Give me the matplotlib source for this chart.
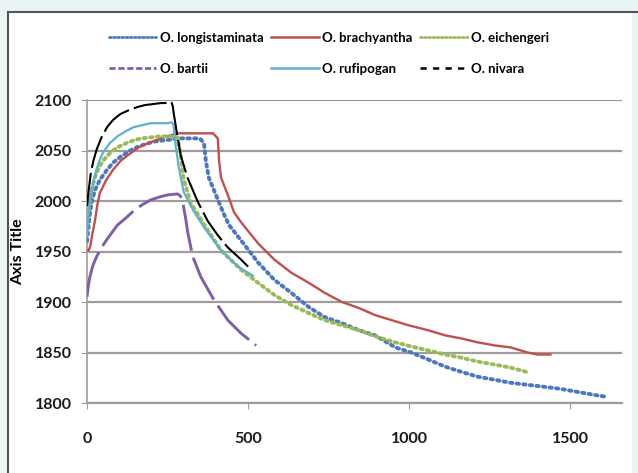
import matplotlib
matplotlib.use('Agg')
import matplotlib.pyplot as plt
from matplotlib.lines import Line2D
from matplotlib.patches import Rectangle

# ---- data ----
nivara_x = [0, 5, 12, 20, 30, 45, 62, 80, 103, 130, 156, 180, 206, 230, 253, 262, 266, 270, 280, 291, 312,
            344, 375, 406, 437, 478, 500]
nivara_y = [1995, 2010, 2028, 2040, 2051, 2063, 2073, 2080, 2086, 2090, 2093, 2095, 2096, 2097, 2097, 2098, 2094, 2085, 2065, 2045, 2023,
            1999, 1980, 1966, 1954, 1942, 1935]

rufi_x = [0, 4, 10, 19, 30, 40, 50, 70, 94, 120, 144, 170, 197, 225, 250, 262, 268, 275, 285, 300, 316, 331,
          363, 416, 469, 515]
rufi_y = [1965, 1985, 2003, 2018, 2032, 2041, 2048, 2057, 2064, 2069, 2073, 2075, 2077, 2077, 2077, 2078, 2076, 2055, 2033, 2009, 1999, 1990,
          1974, 1951, 1935, 1926]

eich_x = [0, 9, 17, 25, 37, 50, 70, 94, 120, 144, 170, 197, 225, 250, 281, 291, 300, 322, 363, 416, 478, 531,
          581, 634, 688, 738, 791, 844, 904, 957, 1006, 1059, 1111, 1160, 1213, 1265, 1315, 1373]
eich_y = [1985, 2001, 2014, 2024, 2033, 2040, 2047, 2053, 2057, 2060, 2062, 2063, 2064, 2064, 2063, 2044, 2021, 1998, 1977, 1951, 1932, 1919,
          1907, 1897, 1889, 1882, 1877, 1872, 1865, 1860, 1856, 1852, 1848, 1845, 1841, 1838, 1835, 1830]

longi_x = [0, 8, 15, 25, 40, 60, 81, 105, 134, 160, 188, 212, 238, 265, 291, 320, 344, 353, 363, 369, 378, 400,
           422, 441, 478, 531, 581, 634, 688, 738, 791, 844, 894, 957, 1006, 1059, 1111, 1160, 1213, 1265,
           1315, 1367, 1420, 1469, 1522, 1574, 1614]
longi_y = [1960, 1985, 2000, 2011, 2021, 2030, 2038, 2044, 2050, 2054, 2057, 2059, 2060, 2061, 2062, 2062, 2062, 2061, 2057, 2039, 2023, 2006,
           1989, 1976, 1961, 1939, 1922, 1909, 1895, 1885, 1879, 1872, 1867, 1855, 1850, 1843, 1836, 1831, 1826, 1823,
           1820, 1818, 1816, 1814, 1811, 1808, 1806]

brachy_x = [0, 5, 10, 17, 25, 32, 40, 60, 81, 105, 134, 160, 188, 212, 238, 260, 281, 344, 391, 406, 410, 416,
            437, 456, 478, 531, 581, 634, 688, 738, 791, 844, 894, 997, 1059, 1111, 1160, 1213, 1265, 1315,
            1367, 1398, 1438]
brachy_y = [1951, 1951, 1955, 1968, 1981, 1996, 2008, 2021, 2031, 2040, 2047, 2053, 2057, 2060, 2063, 2065, 2067, 2067, 2067, 2062, 2039, 2023,
            2006, 1989, 1979, 1958, 1942, 1929, 1919, 1909, 1900, 1894, 1887, 1877, 1872, 1867, 1864, 1860, 1857, 1855,
            1850, 1848, 1848]

bartii_x = [0, 4, 9, 18, 30, 45, 62, 78, 94, 120, 144, 170, 197, 225, 250, 281, 290, 297, 306, 312, 328, 353,
            394, 437, 478, 525]
bartii_y = [1905, 1916, 1925, 1936, 1945, 1954, 1962, 1969, 1976, 1983, 1990, 1996, 2001, 2004, 2006, 2007, 2005, 1999, 1983, 1970, 1945, 1925,
            1902, 1882, 1869, 1857]

yticks = [1800, 1850, 1900, 1950, 2000, 2050, 2100]
xticks = [0, 500, 1000, 1500]

BLUE = '#4a78c2'
RED = '#c0504d'
GREEN = '#9bbb59'
PURPLE = '#7f5fa8'
CYAN = '#5fb0cc'

fig = plt.figure(figsize=(6.38, 4.73), dpi=100)
fig.patch.set_facecolor('#eaf4f5')
# white card with dark top/left edge
fig.patches.append(Rectangle((8/638, -0.01), (632-8)/638, 1.01-12/473, transform=fig.transFigure,
                             facecolor='white', edgecolor='none', zorder=-5))
fig.lines.append(Line2D([8/638, 1.0], [1-12/473, 1-12/473], transform=fig.transFigure, color='#555555', lw=1.5, zorder=-4))
fig.lines.append(Line2D([8/638, 8/638], [0, 1-12/473], transform=fig.transFigure, color='#555555', lw=1.5, zorder=-4))

ax = fig.add_axes([87/638, 1-403/473, (622-87)/638, (403-100)/473])
ax.set_facecolor('none')

ax.plot(longi_x, longi_y, color=BLUE, lw=2.8, ls=(0, (0.6, 1.1)), dash_capstyle='round', zorder=3)
ax.plot(brachy_x, brachy_y, color=RED, lw=1.7, zorder=3)
ax.plot(eich_x, eich_y, color=GREEN, lw=2.8, ls=(0, (0.6, 1.1)), dash_capstyle='round', zorder=3)
ax.plot(bartii_x, bartii_y, color=PURPLE, lw=2.1, ls=(0, (16, 2.5)), zorder=3)
ax.plot(rufi_x, rufi_y, color=CYAN, lw=1.6, zorder=4)
ax.plot(nivara_x, nivara_y, color='black', lw=1.5, ls=(0, (16, 2.5)), zorder=4)

ax.set_xlim(0, 1660)
ax.set_ylim(1800, 2100)
ax.set_yticks(yticks)
ax.set_xticks(xticks)
ax.grid(axis='y', color='#a09c9c', lw=1.6)
ax.set_axisbelow(True)
for s in ['top', 'right']:
    ax.spines[s].set_visible(False)
ax.spines['left'].set_color('#a09c9c')
ax.spines['bottom'].set_color('#a09c9c')
ax.spines['left'].set_linewidth(1.2)
ax.spines['bottom'].set_linewidth(1.6)
ax.tick_params(axis='y', length=4, color='#a09c9c', pad=7, labelsize=11.5)
ax.tick_params(axis='x', length=4, color='#a09c9c', pad=17, labelsize=11.5)
for lab in ax.get_xticklabels() + ax.get_yticklabels():
    lab.set_fontweight('bold')
    lab.set_family('Lato')
    lab.set_color('#1a1a1a')
ax.set_ylabel('Axis Title', fontsize=11.5, fontweight='bold', family='Lato', labelpad=7)

handles = [
    Line2D([], [], color=BLUE, lw=2, ls=(0, (0.6, 0.9)), dash_capstyle='round'),
    Line2D([], [], color=PURPLE, lw=2, ls=(0, (2.2, 1.0))),
    Line2D([], [], color=RED, lw=1.8),
    Line2D([], [], color=CYAN, lw=1.8),
    Line2D([], [], color=GREEN, lw=2, ls=(0, (0.6, 0.9)), dash_capstyle='round'),
    Line2D([], [], color='black', lw=1.8, ls=(0, (2.5, 2.5))),
]
labels = ['O. longistaminata', 'O. bartii', 'O. brachyantha', 'O. rufipogan', 'O. eichengeri', 'O. nivara']
fig.legend(handles, labels, ncol=3, loc='upper center', bbox_to_anchor=(329/638, 1-20/473),
           frameon=False, handlelength=3.6, handletextpad=0.25, columnspacing=0.6, labelspacing=1.45,
           prop={'family': 'Lato', 'weight': 'bold', 'size': 9.5})

plt.savefig('out.png', dpi=100)
